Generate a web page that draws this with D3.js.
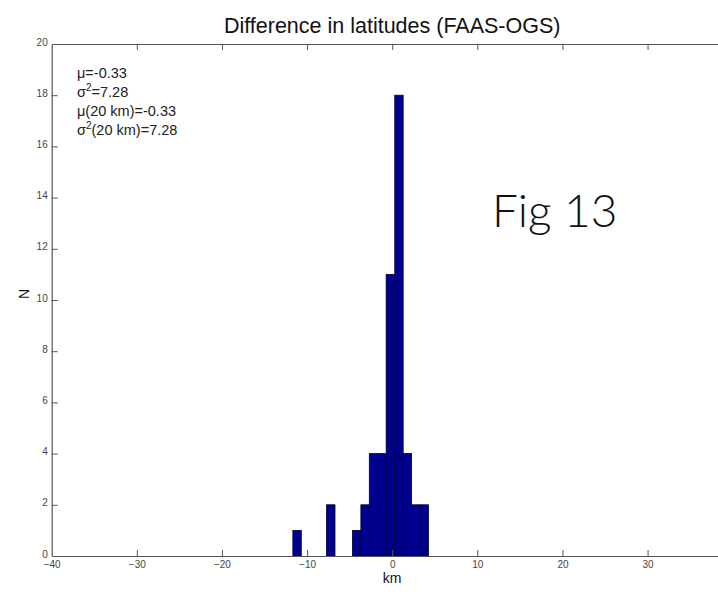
<!DOCTYPE html>
<html>
<head>
<meta charset="utf-8">
<script src="https://cdn.jsdelivr.net/npm/d3@7"></script>
<style>
  body { margin: 0; background: #fff; }
  svg { display: block; }
</style>
</head>
<body>
<div id="chart-area"></div>
<script>
// histogram: difference in latitudes, bin width ~0.99 km
var binStarts = [-11.67, -7.71, -4.67, -3.68, -2.69, -1.70, -0.71, 0.30, 1.29, 2.28, 3.27];
var counts    = [1, 2, 1, 2, 4, 4, 11, 18, 4, 2, 2];
var binWidth  = 0.99;

// the axis runs to 40 but the picture is cropped just before it
var xTicks = [-40, -30, -20, -10, 0, 10, 20, 30];
var yTicks = [0, 2, 4, 6, 8, 10, 12, 14, 16, 18, 20];

var statsLines = [
  { sym: "\u03bc", sup: "", rest: "=-0.33" },
  { sym: "\u03c3", sup: "2", rest: "=7.28" },
  { sym: "\u03bc", sup: "", rest: "(20 km)=-0.33" },
  { sym: "\u03c3", sup: "2", rest: "(20 km)=7.28" }
];

var titleText = "Difference in latitudes (FAAS-OGS)";
var xLabel = "km", yLabel = "N", figLabel = "Fig 13";

var width = 718, height = 600;
var axisColor = "#555";
var tickFont = "'Liberation Sans Narrow', 'Liberation Sans', Arial, sans-serif";

var svg = d3.select("#chart-area")
  .append("svg")
  .attr("width", width)
  .attr("height", height);

var x = d3.scaleLinear().domain([-40, 40]).range([51.7, 732.7]);
var y = d3.scaleLinear().domain([0, 20]).range([556, 44]);

var data = binStarts.map(function(s, i) { return { x0: s, x1: s + binWidth, n: counts[i] }; });

// bars
svg.append("g")
  .selectAll("rect")
  .data(data)
  .enter().append("rect")
    .attr("x", function(d) { return x(d.x0); })
    .attr("y", function(d) { return y(d.n); })
    .attr("width", function(d) { return x(d.x1) - x(d.x0); })
    .attr("height", function(d) { return y(0) - y(d.n); })
    .attr("fill", "#000090")
    .attr("stroke", "#000030")
    .attr("stroke-width", 0.8);

// axes, matlab style: ticks pointing inward on all sides
var xBottom = svg.append("g")
  .attr("transform", "translate(0," + y(0) + ")")
  .call(d3.axisBottom(x).tickValues(xTicks).tickSizeInner(-6).tickSizeOuter(0).tickPadding(5));

var xTop = svg.append("g")
  .attr("transform", "translate(0," + y(20) + ")")
  .call(d3.axisTop(x).tickValues(xTicks).tickSizeInner(-6).tickSizeOuter(0).tickFormat(""));

var yLeft = svg.append("g")
  .attr("transform", "translate(" + x(-40) + ",0)")
  .call(d3.axisLeft(y).tickValues(yTicks).tickSizeInner(-6).tickSizeOuter(0).tickPadding(4));

var yRight = svg.append("g")
  .attr("transform", "translate(" + x(40) + ",0)")
  .call(d3.axisRight(y).tickValues(yTicks).tickSizeInner(-6).tickSizeOuter(0).tickFormat(""));

[xBottom, xTop, yLeft, yRight].forEach(function(g) {
  g.select(".domain").attr("stroke", axisColor).attr("stroke-width", 1.2);
  g.selectAll(".tick line").attr("stroke", axisColor).attr("stroke-width", 1);
  g.selectAll(".tick text")
    .attr("fill", "#444")
    .style("font-family", tickFont)
    .style("font-size", "10px");
});
// hide the tick lines that sit on the box corners
xBottom.selectAll(".tick").filter(function(d) { return d === -40; }).select("line").remove();
xTop.selectAll(".tick").filter(function(d) { return d === -40; }).select("line").remove();
yLeft.selectAll(".tick").filter(function(d) { return d === 0 || d === 20; }).select("line").remove();
yLeft.selectAll(".tick text").attr("dy", "0.1em");

// title
svg.append("text")
  .attr("x", (x(-40) + x(40)) / 2)
  .attr("y", 33)
  .attr("text-anchor", "middle")
  .style("font-family", "Arial, 'Liberation Sans', sans-serif")
  .style("font-size", "21.5px")
  .attr("fill", "#111")
  .text(titleText);

// axis labels
svg.append("text")
  .attr("x", x(0))
  .attr("y", 583)
  .attr("text-anchor", "middle")
  .style("font-family", "Arial, 'Liberation Sans', sans-serif")
  .style("font-size", "14px")
  .attr("fill", "#111")
  .text(xLabel);

svg.append("text")
  .attr("transform", "translate(29,294) rotate(-90)")
  .attr("text-anchor", "middle")
  .style("font-family", "Arial, 'Liberation Sans', sans-serif")
  .style("font-size", "14px")
  .attr("fill", "#111")
  .text(yLabel);

// stats text
var stats = svg.append("g")
  .style("font-family", "Arial, 'Liberation Sans', sans-serif")
  .style("font-size", "14.5px")
  .attr("fill", "#222");

statsLines.forEach(function(l, i) {
  var t = stats.append("text")
    .attr("x", 77)
    .attr("y", 78 + i * 19);
  t.append("tspan").text(l.sym);
  if (l.sup) {
    t.append("tspan").attr("dy", -6).style("font-size", "10px").text(l.sup);
    t.append("tspan").attr("dy", 6).text(l.rest);
  } else {
    t.append("tspan").text(l.rest);
  }
});

// figure label
svg.append("text")
  .attr("x", 492)
  .attr("y", 227)
  .style("font-family", "Lato, 'Open Sans', sans-serif")
  .style("font-weight", 300)
  .style("font-size", "46px")
  .attr("fill", "#111")
  .text(figLabel);
</script>
</body>
</html>
